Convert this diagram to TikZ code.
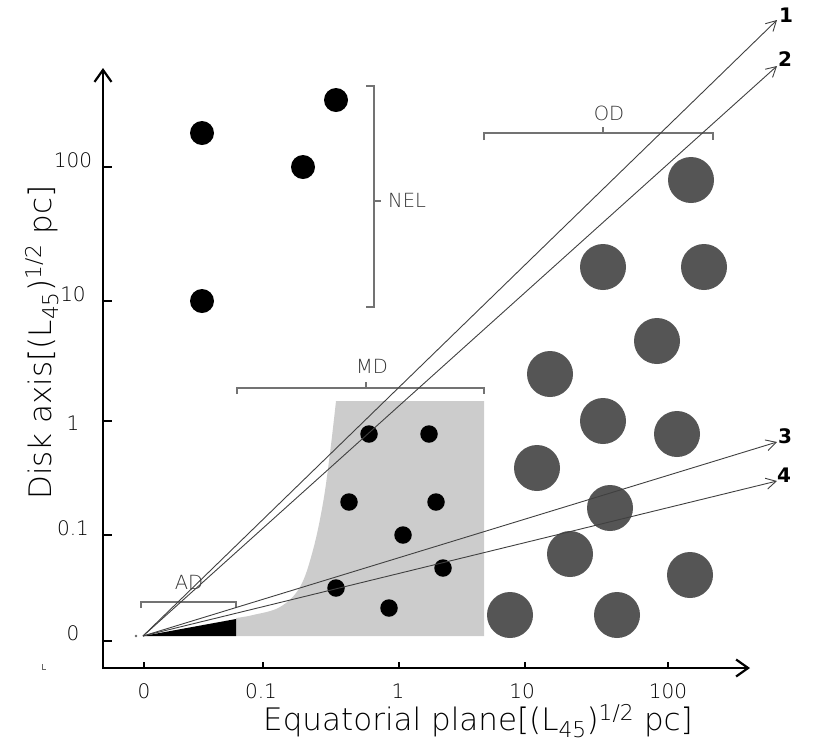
\documentclass[tikz,border=0pt]{standalone}
\usepackage{fontspec}
\setmainfont{DejaVu Sans ExtraLight}[BoldFont={DejaVu Sans Bold}]
\newfontfamily\numfont{DejaVu Sans Bold}
\usetikzlibrary{arrows.meta}
\definecolor{odgray}{HTML}{555555}
\definecolor{mdgray}{HTML}{CCCCCC}
\begin{document}
\begin{tikzpicture}[x=1pt,y=-1pt,
  axisline/.style={line width=2.2pt, black, -{Straight Barb[length=12pt,width=17pt]}},
  ray/.style={line width=0.9pt, black!75, -{Straight Barb[length=10pt,width=11pt]}},
  brk/.style={line width=1.3pt, black!55},
  tickmark/.style={line width=1.8pt, black},
  neldot/.style={circle, fill=black, minimum size=24pt, inner sep=0pt},
  mddot/.style={circle, fill=black, minimum size=17.5pt, inner sep=0pt},
  oddot/.style={circle, fill=odgray, minimum size=46pt, inner sep=0pt},
  ticklbl/.style={font=\fontsize{20}{20}\selectfont, inner sep=0pt},
  brklbl/.style={font=\fontsize{19.5}{20}\selectfont, text=black!80, inner sep=0pt},
  numlbl/.style={font=\fontsize{20}{20}\selectfont\numfont, inner sep=0pt},
  titlelbl/.style={font=\fontsize{31}{31}\selectfont, inner sep=0pt}]
\useasboundingbox (0,0) rectangle (830,748);

% shaded regions
\fill[mdgray] (484,636) -- (236,636) -- plot[smooth, tension=0.6] coordinates {(236,618) (253,615) (280,607) (300,587) (313,550) (323,503) (330,453) (336,401)} -- (484,401) -- cycle;
\fill[black] (143,636) -- (236,619) -- (236,636) -- cycle;

% axes
\coordinate (ax0) at (103,668);
\coordinate (axX) at (750,668);
\coordinate (axY) at (103,68);
\draw[axisline] (ax0) -- (axX);
\draw[axisline] (103,669) -- (axY);

% y ticks
\foreach \yy/\tt/\ly in {167/100/167, 301/10/301, 421/1/430, 535/0.1/535, 641/0/640}{
  \draw[tickmark] (103,\yy) -- (112,\yy);
  \node[ticklbl, anchor=base] (yl\tt) at (73,\ly) {\tt};
}
% x ticks
\foreach \xx/\tt/\lx in {144/0/144, 263/0.1/261, 399/1/398, 525/10/522, 668/100/668}{
  \draw[tickmark] (\xx,668) -- (\xx,662);
  \node[ticklbl, anchor=base] (xl\tt) at (\lx,698) {\tt};
}

% axis titles
\node[titlelbl, anchor=base west] (xtitle) at (263,730) {Equatorial plane[(L\textsubscript{45})\textsuperscript{1/2} pc]};
\node[titlelbl, anchor=base west, rotate=90] (ytitle) at (51,500) {Disk axis[(L\textsubscript{45})\textsuperscript{1/2} pc]};

% small marks
\fill[black!60] (136,636) circle (1.3pt);
\draw[black!60, line width=0.8pt] (42,664) -- (42,669) -- (46,669);

% NEL dots
\node[neldot] (n1) at (202,133) {};
\node[neldot] (n2) at (336,100) {};
\node[neldot] (n3) at (303,167) {};
\node[neldot] (n4) at (202,301) {};

% MD dots
\node[mddot] (m1) at (369,434) {};
\node[mddot] (m2) at (429,434) {};
\node[mddot] (m3) at (349,502) {};
\node[mddot] (m4) at (436,502) {};
\node[mddot] (m5) at (403,535) {};
\node[mddot] (m6) at (443,568) {};
\node[mddot] (m7) at (336,588) {};
\node[mddot] (m8) at (389,608) {};

% OD dots
\node[oddot] (o1) at (691,180) {};
\node[oddot] (o2) at (603,267) {};
\node[oddot] (o3) at (704,267) {};
\node[oddot] (o4) at (657,341) {};
\node[oddot] (o5) at (550,374) {};
\node[oddot] (o6) at (603,421) {};
\node[oddot] (o7) at (677,434) {};
\node[oddot] (o8) at (537,468) {};
\node[oddot] (o9) at (610,508) {};
\node[oddot] (o10) at (570,554) {};
\node[oddot] (o11) at (690,575) {};
\node[oddot] (o12) at (510,615) {};
\node[oddot] (o13) at (617,615) {};

% brackets
\draw[brk] (141,608) -- (141,602) -- (236,602) -- (236,608);
\node[brklbl] (ad) at (189,582) {AD};
\draw[brk] (237,394) -- (237,388) -- (484,388) -- (484,394);
\draw[brk] (366,388) -- (366,382);
\node[brklbl] (md) at (372,366) {MD};
\draw[brk] (484,140) -- (484,133) -- (713,133) -- (713,140);
\draw[brk] (603,133) -- (603,127);
\node[brklbl] (od) at (609,113) {OD};
\draw[brk] (366,86) -- (374,86) -- (374,307) -- (366,307);
\draw[brk] (374,201) -- (381,201);
\node[brklbl, anchor=west] (nel) at (388,200) {NEL};

% rays
\coordinate (O) at (143,636);
\coordinate (e1) at (777,20);
\coordinate (e2) at (777,66);
\coordinate (e3) at (777,442);
\coordinate (e4) at (777,481);
\draw[ray] (O) -- (e1);
\draw[ray] (O) -- (e2);
\draw[ray] (O) -- (e3);
\draw[ray] (O) -- (e4);
\node[numlbl] (l1) at (786,15) {1};
\node[numlbl] (l2) at (785,59) {2};
\node[numlbl] (l3) at (785,436) {3};
\node[numlbl] (l4) at (784,475) {4};
\end{tikzpicture}
\end{document}
